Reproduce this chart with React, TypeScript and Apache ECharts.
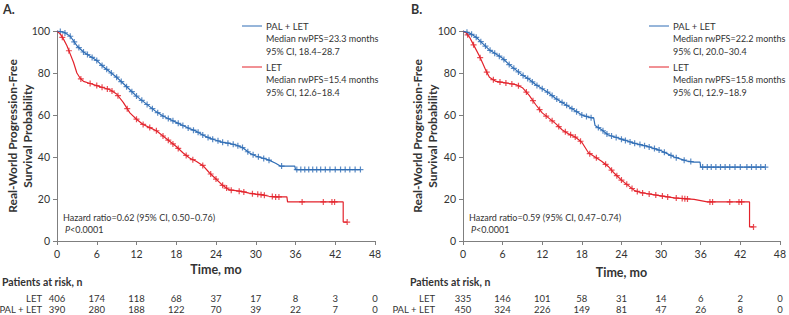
import React, { useEffect, useRef } from "react";
import * as echarts from "echarts";

// ---------- data ----------
const riskTimes = [0, 6, 12, 18, 24, 30, 36, 42, 48];
const riskA_LET = [406, 174, 118, 68, 37, 17, 8, 3, 0];
const riskA_PAL = [390, 280, 188, 122, 70, 39, 22, 7, 0];
const riskB_LET = [335, 146, 101, 58, 31, 14, 6, 2, 0];
const riskB_PAL = [450, 324, 226, 149, 81, 47, 26, 8, 0];

// Kaplan–Meier curves: [month, survival %]
const curveA_PAL: number[][] = [
  [0, 100], [1, 99.5], [2, 97.5], [3, 93], [4, 90], [5, 88], [6, 86], [7, 83], [8, 80.5], [9, 78],
  [10, 75], [11, 72], [12, 69], [13, 66.5], [14, 64], [15, 61.5], [16, 59.5], [17, 58], [18, 56.5],
  [19, 55], [20, 53.5], [21, 52.3], [22, 50.5], [23, 49], [24, 48], [25, 47], [26, 46.5], [27, 45.7],
  [28, 44.5], [29, 42], [30, 40.5], [31, 39.5], [32, 38.5], [33, 37], [33.7, 35.7], [35.9, 35.7],
  [36, 34], [45.8, 34],
];
const curveA_LET: number[][] = [
  [0, 100], [0.5, 98.5], [1, 96], [1.5, 93], [2, 89], [2.5, 85], [3, 80], [3.5, 77.5], [4, 76], [5, 75],
  [6, 74], [7, 73], [8, 72], [9, 70], [10, 66], [11, 61], [12, 58], [13, 55.5], [14, 54], [15, 52.5],
  [16, 50], [17, 47.5], [18, 45], [19, 42], [20, 39.5], [21, 38], [22, 36], [23, 32.5], [24, 29.5],
  [25, 26.5], [26, 24.3], [27, 24], [28, 23.5], [29, 22.8], [30, 22.3], [31, 22], [32, 21.3], [33, 21],
  [34.7, 21], [34.8, 18.6], [43.2, 18.6], [43.2, 9], [43.8, 9],
];
const curveB_PAL: number[][] = [
  [0, 100], [1, 99], [2, 97], [3, 94], [4, 91], [5, 89], [6, 87], [7, 84], [8, 81.5], [9, 79], [10, 77],
  [11, 74.5], [12, 72.5], [13, 70.5], [14, 68], [15, 66], [16, 64], [17, 62], [18, 60], [19, 59],
  [19.8, 58.5], [20, 55], [21, 53], [22, 50.5], [23, 49.5], [24, 48.5], [25, 47.5], [26, 46.5],
  [27, 45.8], [28, 45], [29, 44], [30, 43], [31, 41.5], [32, 40], [33, 39], [34, 38], [35, 37.6],
  [35.9, 37.6], [36, 35.2], [45.8, 35.2],
];
const curveB_LET: number[][] = [
  [0, 100], [0.5, 99], [1, 97], [1.5, 94], [2, 91], [2.5, 88], [3, 84.5], [3.5, 81], [4, 78], [5, 76],
  [6, 75.5], [7, 75], [8, 74.5], [9, 73], [10, 69.5], [11, 65], [12, 61], [13, 58.5], [14, 56], [15, 53],
  [16, 51], [17, 49.5], [18, 47], [19, 42], [20, 40], [21, 38], [22, 35.5], [23, 32], [24, 29], [25, 26.5],
  [26, 24], [27, 23], [28, 22.5], [29, 22], [30, 21.5], [31, 21], [32, 20.5], [33, 20.3], [35, 19.8],
  [36, 19.2], [37, 18.6], [43.4, 18.6], [43.4, 6.7], [44, 6.7],
];

// censoring times (months)
const censorA_PAL = [0.5, 1.2, 2, 2.6, 3.3, 4, 4.6, 5.3, 6, 6.8, 7.5, 8.2, 9, 9.7, 10.5, 11.3, 12, 12.8, 13.6,
  14.4, 15.2, 16, 16.8, 17.5, 18.3, 19, 19.8, 20.6, 21.3, 22, 22.8, 23.5, 24.3, 25, 25.8, 26.6, 27.3, 28,
  28.8, 29.6, 30.4, 31.2, 32, 33.9, 36.2, 36.8, 37.4, 38, 38.6, 39.2, 39.8, 40.5, 41.2, 42, 42.8, 43.5, 44.2, 45, 45.8];
const censorA_LET = [0.8, 1.8, 3.6, 5, 6, 6.8, 7.6, 8.3, 9.2, 10.6, 12, 13, 14, 15, 16, 16.8, 17.5, 18.3,
  19.5, 20.5, 22, 23.2, 24, 25, 25.6, 26.3, 27.5, 28.2, 29.5, 30.3, 30.8, 31.3, 32.5, 33, 33.5, 37, 40.2, 41.5, 41.9, 43.8];
const censorB_PAL = [0.6, 1.3, 2, 2.7, 3.4, 4.1, 4.8, 5.5, 6.2, 7, 7.7, 8.4, 9.1, 9.8, 10.5, 11.2, 12, 12.8,
  13.5, 14.2, 15, 15.7, 16.5, 17.2, 18, 18.7, 19.4, 20.5, 21.2, 21.8, 22.5, 23.2, 24, 24.6, 25.3, 26, 26.8,
  27.5, 28.2, 29, 29.7, 30.5, 31.5, 32.3, 33.5, 34.5, 36.3, 37, 37.6, 38.3, 39, 39.7, 40.4, 41.2, 42, 43, 43.7, 44.4, 45.1, 45.8];
const censorB_LET = [0.7, 1.6, 2.6, 3.6, 4.6, 5.6, 6.5, 7.4, 8.4, 9.6, 10.6, 11.6, 12.6, 13.5, 14.5, 15.5,
  16.3, 17, 17.8, 19.2, 20.2, 21.6, 22.5, 23.3, 24, 24.8, 25.6, 26.4, 27.2, 28.2, 29.2, 30.2, 31, 32.3,
  33.2, 33.6, 34, 37.4, 37.8, 40.4, 41.8, 42.2, 44];

// ---------- helpers ----------
const BLUE = "#2f6db5";
const RED = "#e3222b";
const TEXT = "#333333";
const AXIS = "#7f7f7f";
const FONT = "Lato, 'Noto Sans', sans-serif";
const PLUS = "path://M2,0H3V2H5V3H3V5H2V3H0V2H2Z";

function valueAt(curve: number[][], t: number): number {
  let v = curve[0][1];
  for (let i = 0; i < curve.length; i++) {
    if (curve[i][0] <= t) {
      v = curve[i][1];
      if (i + 1 < curve.length && curve[i + 1][0] > t) {
        const [t0, s0] = curve[i];
        const [t1, s1] = curve[i + 1];
        v = s0 + ((s1 - s0) * (t - t0)) / (t1 - t0);
      }
    }
  }
  return v;
}
const marks = (curve: number[][], times: number[]) => times.map((t) => [t, valueAt(curve, t)]);

function axes(gridIndex: number) {
  const common = {
    gridIndex,
    type: "value" as const,
    axisLine: { show: true, lineStyle: { color: AXIS, width: 1 } },
    axisTick: { show: true, length: 4, lineStyle: { color: AXIS } },
    splitLine: { show: false },
  };
  return {
    x: {
      ...common,
      min: 0,
      max: 48,
      interval: 6,
      axisLabel: { fontSize: 10.5, color: TEXT, margin: 7, fontFamily: FONT },
    },
    y: {
      ...common,
      min: 0,
      max: 100,
      interval: 20,
      axisLabel: { fontSize: 10.5, color: TEXT, margin: 7, fontFamily: FONT },
    },
  };
}

function txt(x: number, y: number, text: string, extra: any = {}, styleExtra: any = {}) {
  return {
    type: "text",
    x,
    y,
    silent: true,
    ...extra,
    style: {
      text,
      fill: TEXT,
      fontSize: 9,
      fontFamily: FONT,
      align: "left",
      verticalAlign: "middle",
      textAlign: "left",
      textVerticalAlign: "middle",
      ...styleExtra,
    },
  };
}

export default function App() {
  const ref = useRef<HTMLDivElement>(null);

  useEffect(() => {
    if (!ref.current) return;
    const chart = echarts.init(ref.current, undefined, { renderer: "svg" });
    const aA = axes(0);
    const aB = axes(1);

    const lineSeries = (name: string, data: number[][], color: string, idx: number) => ({
      name,
      type: "line",
      xAxisIndex: idx,
      yAxisIndex: idx,
      data,
      symbol: "none",
      lineStyle: { color, width: 1.2 },
      silent: true,
    });
    const censorSeries = (name: string, data: number[][], color: string, idx: number) => ({
      name,
      type: "scatter",
      xAxisIndex: idx,
      yAxisIndex: idx,
      data,
      symbol: PLUS,
      symbolSize: 6,
      itemStyle: { color },
      silent: true,
    });

    chart.setOption({
      animation: false,
      grid: [
        { left: 57, top: 31, width: 318, height: 210 },
        { left: 463, top: 31, width: 320, height: 210 },
      ],
      xAxis: [aA.x, aB.x],
      yAxis: [aA.y, aB.y],
      series: [
        lineSeries("A LET", curveA_LET, RED, 0),
        lineSeries("A PAL + LET", curveA_PAL, BLUE, 0),
        censorSeries("A LET c", marks(curveA_LET, censorA_LET), RED, 0),
        censorSeries("A PAL c", marks(curveA_PAL, censorA_PAL), BLUE, 0),
        lineSeries("B LET", curveB_LET, RED, 1),
        lineSeries("B PAL + LET", curveB_PAL, BLUE, 1),
        censorSeries("B LET c", marks(curveB_LET, censorB_LET), RED, 1),
        censorSeries("B PAL c", marks(curveB_PAL, censorB_PAL), BLUE, 1),
      ],
    });

    const graphic: any[] = [];
    const panel = (
      idx: number,
      label: string,
      originX: number,
      yNameX: number,
      legX: number,
      pal: [string, string],
      letT: [string, string],
      hr: string,
      riskLET: number[],
      riskPAL: number[],
      rowLabelRight: number,
      timeY: number,
    ) => {
      graphic.push(txt(originX + 3, 9, label, {}, { fontSize: 12.5, fontWeight: "bold" }));
      graphic.push(
        txt(yNameX, 136, "Real-World Progression-Free\nSurvival Probability", { rotation: Math.PI / 2 }, {
          fontSize: 12,
          fontWeight: "bold",
          align: "center",
          textAlign: "center",
          lineHeight: 15,
        }),
      );
      // legend
      graphic.push({ type: "line", silent: true, shape: { x1: legX, y1: 26, x2: legX + 20, y2: 26 }, style: { stroke: BLUE, lineWidth: 1 } });
      graphic.push(txt(legX + 24, 26, "PAL + LET", {}, { fontSize: 9.5 }));
      graphic.push(txt(legX + 24, 38.5, pal[0]));
      graphic.push(txt(legX + 24, 51, pal[1]));
      graphic.push({ type: "line", silent: true, shape: { x1: legX, y1: 67, x2: legX + 20, y2: 67 }, style: { stroke: RED, lineWidth: 1 } });
      graphic.push(txt(legX + 24, 67, "LET", {}, { fontSize: 9.5 }));
      graphic.push(txt(legX + 24, 79.5, letT[0]));
      graphic.push(txt(legX + 24, 92, letT[1]));
      // hazard ratio
      const x0 = chart.convertToPixel({ xAxisIndex: idx }, 0) as number;
      const x48 = chart.convertToPixel({ xAxisIndex: idx }, 48) as number;
      graphic.push(txt(x0 + 6, 217, hr, {}, { fontSize: 9 }));
      graphic.push({
        type: "text",
        x: x0 + 8,
        y: 229,
        silent: true,
        style: {
          text: "{i|P}<0.0001",
          fill: TEXT,
          fontSize: 9,
          fontFamily: FONT,
          verticalAlign: "middle",
          textVerticalAlign: "middle",
          rich: { i: { fontStyle: "italic", fontSize: 9, fontFamily: FONT, fill: TEXT } },
        },
      });
      // axis title
      graphic.push(txt((x0 + x48) / 2, timeY, "Time, mo", {}, { fontSize: 12.5, fontWeight: "bold", align: "center", textAlign: "center" }));
      // risk table
      graphic.push(txt(originX + 2, 282, "Patients at risk, n", {}, { fontSize: 10.5, fontWeight: "bold" }));
      graphic.push(txt(rowLabelRight, 298, "LET", {}, { fontSize: 9.5, align: "right", textAlign: "right" }));
      graphic.push(txt(rowLabelRight, 309, "PAL + LET", {}, { fontSize: 9.5, align: "right", textAlign: "right" }));
      riskTimes.forEach((t, i) => {
        const px = chart.convertToPixel({ xAxisIndex: idx }, t) as number;
        graphic.push(txt(px, 298, String(riskLET[i]), {}, { fontSize: 9.5, align: "center", textAlign: "center" }));
        graphic.push(txt(px, 309, String(riskPAL[i]), {}, { fontSize: 9.5, align: "center", textAlign: "center" }));
      });
    };

    panel(0, "A.", 0, 19.5, 242,
      ["Median rwPFS=23.3 months", "95% CI, 18.4–28.7"],
      ["Median rwPFS=15.4 months", "95% CI, 12.6–18.4"],
      "Hazard ratio=0.62 (95% CI, 0.50–0.76)", riskA_LET, riskA_PAL, 42, 269);
    panel(1, "B.", 408, 425, 649,
      ["Median rwPFS=22.2 months", "95% CI, 20.0–30.4"],
      ["Median rwPFS=15.8 months", "95% CI, 12.9–18.9"],
      "Hazard ratio=0.59 (95% CI, 0.47–0.74)", riskB_LET, riskB_PAL, 435, 272);

    chart.setOption({ graphic });

    return () => chart.dispose();
  }, []);

  return (
    <div
      ref={ref}
      style={{ position: "absolute", left: 0, top: 0, width: 789, height: 315, background: "#fff" }}
    />
  );
}
